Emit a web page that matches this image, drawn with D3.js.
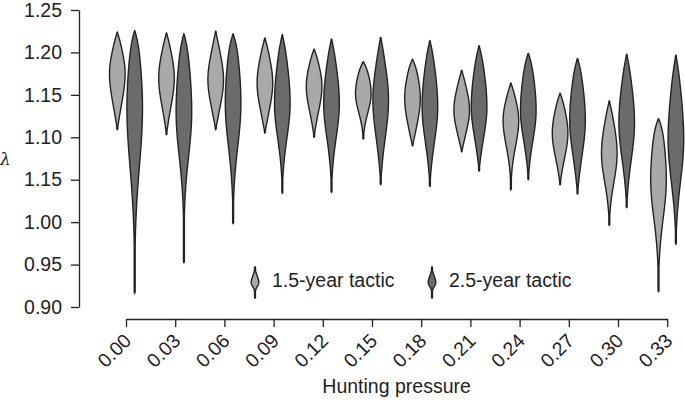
<!DOCTYPE html>
<html>
<head>
<meta charset="utf-8">
<script src="https://cdn.jsdelivr.net/npm/d3@7"></script>
<style>
    body { margin: 0; background: #fff; }
    svg { display: block; font-family: "Liberation Sans", Arial, sans-serif; }
</style>
</head>
<body>
<svg id="chart" width="685" height="403"></svg>
<script>
"use strict";

// hunting pressure categories
const pressure = ["0.00", "0.03", "0.06", "0.09", "0.12", "0.15", "0.18", "0.21", "0.24", "0.27", "0.30", "0.33"];
// y ticks and their printed labels (as printed in the figure)
const yTicks = [1.25, 1.20, 1.15, 1.10, 1.05, 1.00, 0.95, 0.90];
const yTickLabels = ["1.25", "1.20", "1.15", "1.10", "1.15", "1.00", "0.95", "0.90"];

// 1.5-year tactic: max, min, peak of the density, spread above / below the peak
const shortHi = [1.224, 1.223, 1.225, 1.217, 1.204, 1.189, 1.192, 1.179, 1.164, 1.152, 1.143, 1.122];
const shortLo = [1.109, 1.103, 1.109, 1.105, 1.100, 1.098, 1.090, 1.083, 1.038, 1.044, 0.996, 0.918];
const shortMode = [1.175, 1.170, 1.168, 1.164, 1.160, 1.152, 1.146, 1.132, 1.120, 1.105, 1.081, 1.050];
const shortSdUp = [0.028, 0.030, 0.030, 0.030, 0.026, 0.024, 0.030, 0.026, 0.025, 0.028, 0.035, 0.055];
const shortSdDown = [0.033, 0.032, 0.030, 0.030, 0.028, 0.022, 0.030, 0.025, 0.030, 0.028, 0.033, 0.045];

// 2.5-year tactic
const longHi = [1.226, 1.222, 1.222, 1.221, 1.216, 1.218, 1.214, 1.208, 1.199, 1.193, 1.198, 1.197];
const longLo = [0.916, 0.952, 0.998, 1.034, 1.035, 1.044, 1.042, 1.060, 1.050, 1.033, 1.017, 0.974];
const longMode = [1.135, 1.130, 1.140, 1.140, 1.140, 1.144, 1.136, 1.136, 1.132, 1.120, 1.117, 1.097];
const longSdUp = [0.066, 0.065, 0.060, 0.050, 0.045, 0.041, 0.048, 0.045, 0.045, 0.048, 0.048, 0.060];
const longSdDown = [0.069, 0.052, 0.050, 0.040, 0.040, 0.043, 0.040, 0.035, 0.035, 0.040, 0.042, 0.048];

const tactics = ["1.5-year tactic", "2.5-year tactic"];
const FILLS = ["#a9a9a9", "#6b6b6b"];
const INK = "#222";

const svg = d3.select("#chart");

const y = d3.scaleLinear().domain([0.90, 1.25]).range([307, 10]);
const x = d3.scalePoint().domain(pressure).range([126, 667.2]);
const offset = 8.7;   // half distance between the two violins of a pair

// outline of one violin: half width along the value axis,
// gaussian-like around the peak, squeezed to a point at both ends
const profile = (lo, hi, mode, sdUp, sdDown, halfW, stem) => {
    const pts = [];
    const n = 140;
    for (let i = 0; i <= n; i++) {
        const v = lo + (hi - lo) * i / n;
        let g;
        let u;
        if (v >= mode) {
            g = Math.exp(-0.5 * Math.pow((v - mode) / sdUp, 2));
            u = (v - mode) / (hi - mode);
        } else {
            g = Math.exp(-0.5 * Math.pow((mode - v) / sdDown, 2));
            u = (mode - v) / (mode - lo);
        }
        let w = halfW * g * (1 - Math.pow(u, 8));
        if (i > 0 && i < n) w = Math.max(stem, w);
        pts.push({ v, w });
    }
    return pts;
};

const drawViolin = (g, cx, pts, yScale, fill) => {
    const area = d3.area()
        .y((d) => yScale(d.v))
        .x0((d) => cx - d.w)
        .x1((d) => cx + d.w);
    g.append("path")
        .datum(pts)
        .attr("d", area)
        .attr("fill", fill)
        .attr("stroke", INK)
        .attr("stroke-width", 1.4)
        .attr("stroke-linejoin", "round");
};

const violins = svg.append("g");
pressure.forEach((p, i) => {
    drawViolin(violins, x(p) - offset,
        profile(shortLo[i], shortHi[i], shortMode[i], shortSdUp[i], shortSdDown[i], 7.8, 0.45), y, FILLS[0]);
    drawViolin(violins, x(p) + offset,
        profile(longLo[i], longHi[i], longMode[i], longSdUp[i], longSdDown[i], 7.8, 0.45), y, FILLS[1]);
});

// y axis
const yAxis = svg.append("g")
    .attr("transform", "translate(79,0)")
    .call(d3.axisLeft(y).tickValues(yTicks).tickFormat((d, i) => yTickLabels[i]).tickSize(8).tickSizeOuter(0));
yAxis.select(".domain").attr("stroke", INK).attr("stroke-width", 1.3);
yAxis.selectAll(".tick line").attr("stroke", INK).attr("stroke-width", 1.3);
yAxis.selectAll(".tick text")
    .attr("x", -17)
    .attr("fill", INK)
    .style("font-size", "19.5px")
    .style("font-family", "'Liberation Sans', Arial, sans-serif");

svg.append("text")
    .attr("x", 0)
    .attr("y", 165)
    .attr("fill", INK)
    .style("font-size", "17px")
    .style("font-style", "italic")
    .style("font-family", "'DejaVu Serif', serif")
    .text("λ");

// x axis
const xAxis = svg.append("g")
    .attr("transform", "translate(0,319)")
    .call(d3.axisBottom(x).tickSize(8).tickSizeOuter(0));
xAxis.select(".domain").attr("stroke", INK).attr("stroke-width", 1.3);
xAxis.selectAll(".tick line").attr("stroke", INK).attr("stroke-width", 1.3);
xAxis.selectAll(".tick text")
    .attr("y", 0)
    .attr("dy", 0)
    .attr("text-anchor", "end")
    .attr("transform", "translate(6,23) rotate(-45)")
    .attr("fill", INK)
    .style("font-size", "19.5px")
    .style("font-family", "'Liberation Sans', Arial, sans-serif");

svg.append("text")
    .attr("x", (x.range()[0] + x.range()[1]) / 2)
    .attr("y", 393)
    .attr("text-anchor", "middle")
    .attr("fill", INK)
    .style("font-size", "19.5px")
    .text("Hunting pressure");

// legend
const legendX = [255, 432];
const legendIcon = d3.scaleLinear().domain([0, 1]).range([298, 267]);
tactics.forEach((name, i) => {
    const g = svg.append("g");
    drawViolin(g, legendX[i], profile(0, 1, 0.5, 0.2, 0.13, 3.8, 0.45), legendIcon, FILLS[i]);
    g.append("text")
        .attr("x", legendX[i] + 17)
        .attr("y", 287)
        .attr("fill", INK)
        .style("font-size", "19.5px")
        .text(name);
});
</script>
</body>
</html>
